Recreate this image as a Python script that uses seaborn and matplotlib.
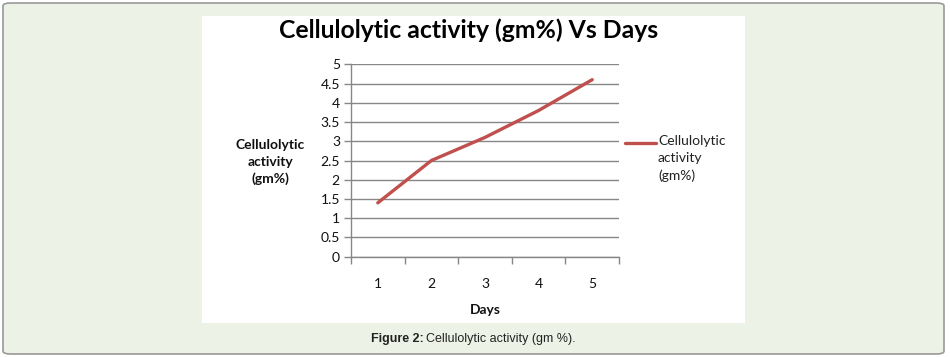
import matplotlib
matplotlib.use("Agg")
import matplotlib.pyplot as plt
import seaborn as sns
import pandas as pd
from matplotlib.patches import FancyBboxPatch, Rectangle
from matplotlib.lines import Line2D
from matplotlib.ticker import MultipleLocator, FixedLocator, FuncFormatter

days = [1, 2, 3, 4, 5]
activity = [1.4, 2.5, 3.1, 3.8, 4.6]
series_name = "Cellulolytic\nactivity\n(gm%)"
title = "Cellulolytic activity (gm%) Vs Days"
ylabel = "Cellulolytic\nactivity\n(gm%)"
xlabel = "Days"

df = pd.DataFrame({"Days": days, "Activity": activity})

sns.set_style("white")
plt.rcParams["font.family"] = ["Lato", "DejaVu Sans"]

W, H = 950, 357
fig = plt.figure(figsize=(W / 100, H / 100), dpi=100)
fig.patch.set_facecolor("white")

def fx(x):
    return x / W

def fy(y):
    return 1 - y / H

LINE_COLOR = "#c0504d"

# outer rounded frame
fig.patches.append(FancyBboxPatch((fx(3), fy(354)), fx(941), (351) / H,
                                  boxstyle="round,pad=0,rounding_size=0.008",
                                  transform=fig.transFigure, facecolor="#edf2e6",
                                  edgecolor="#9a9a9a", linewidth=1.2, zorder=0))
# white chart panel
fig.patches.append(Rectangle((fx(202), fy(323)), fx(543), 307 / H,
                             transform=fig.transFigure, facecolor="white",
                             edgecolor="none", zorder=1))

ax = fig.add_axes([fx(351), fy(256.7), fx(268), (256.7 - 64.3) / H])
ax.set_facecolor("none")
ax.set_zorder(2)

sns.lineplot(data=df, x="Days", y="Activity", ax=ax, color=LINE_COLOR,
             linewidth=2.4, legend=False)

ax.set_xlim(0.5, 5.5)
ax.set_ylim(0, 5)
ax.yaxis.set_major_locator(MultipleLocator(0.5))
ax.yaxis.set_major_formatter(FuncFormatter(lambda v, p: f"{v:g}"))
ax.xaxis.set_major_locator(FixedLocator(days))
ax.xaxis.set_minor_locator(FixedLocator([d - 0.5 for d in days] + [days[-1] + 0.5]))
ax.grid(axis="y", color="#878787", linewidth=1)
ax.tick_params(axis="x", which="major", length=0, pad=15, labelsize=10, colors="#111111")
ax.tick_params(axis="x", which="minor", length=5, width=1, color="#878787", direction="out")
ax.tick_params(axis="y", which="major", length=5, width=1, color="#878787",
               direction="out", labelsize=10, labelcolor="#111111", pad=3)
ax.xaxis.set_ticks_position("bottom")
ax.yaxis.set_ticks_position("left")
for s in ["top", "right"]:
    ax.spines[s].set_visible(False)
for s in ["left", "bottom"]:
    ax.spines[s].set_color("#878787")
    ax.spines[s].set_linewidth(1)
ax.set_xlabel("")
ax.set_ylabel("")

fig.text(fx(485), fy(310), xlabel, ha="center", va="center", fontsize=10,
         fontweight="bold", color="#111111")
fig.text(fx(270), fy(162), ylabel, ha="center", va="center", fontsize=10,
         fontweight="bold", color="#111111", linespacing=1.5)
fig.text(fx(469), fy(30), title, ha="center", va="center", fontsize=17.8,
         fontweight="bold", color="black")

# legend (handle + label)
fig.add_artist(Line2D([fx(625), fx(656)], [fy(142.5), fy(142.5)],
                      transform=fig.transFigure, color=LINE_COLOR, linewidth=2.4))
fig.text(fx(658), fy(135), series_name, ha="left", va="top", fontsize=10,
         color="#222222", linespacing=1.5)

fig.text(fx(424), fy(339), "Figure 2:", ha="right", va="center", fontsize=9,
         fontweight="bold", family=["Liberation Sans", "DejaVu Sans"], color="#222222")
fig.text(fx(426), fy(339), "Cellulolytic activity (gm %).", ha="left", va="center",
         fontsize=9, family=["Liberation Sans", "DejaVu Sans"], color="#222222")

fig.savefig("out.png", dpi=100)
